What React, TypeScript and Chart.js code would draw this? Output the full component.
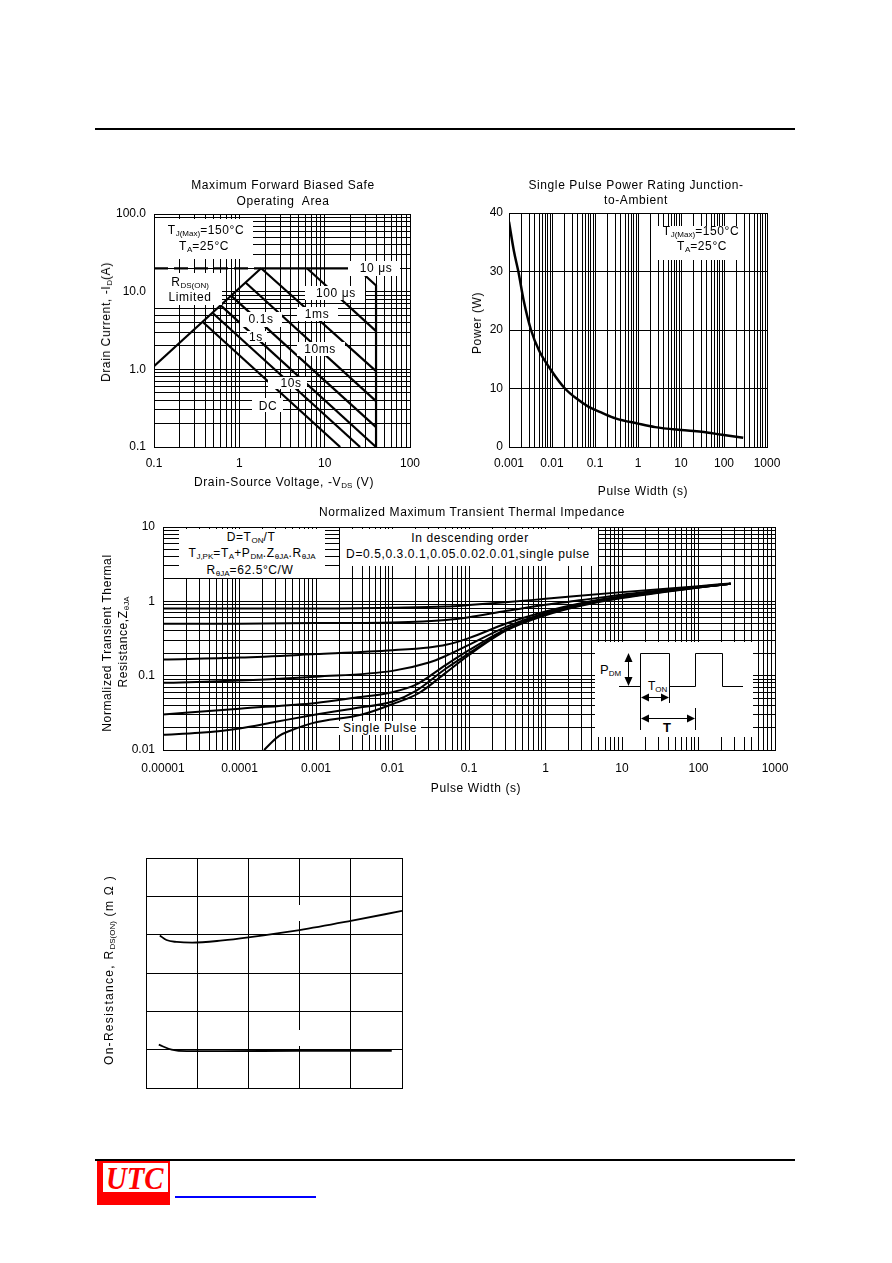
import React, { useEffect, useRef } from 'react';
import { Chart, registerables } from 'chart.js';
Chart.register(...registerables);

const FONT = "'Liberation Sans', Arial, Helvetica, sans-serif";

// ---------- Chart 1: Maximum Forward Biased Safe Operating Area ----------
const soaXTickLabels = ['0.1', '1', '10', '100'];
const soaYTickLabels = ['0.1', '1.0', '10.0', '100.0'];
const soaRdsLimit = [[0.1, 1.1], [1.8, 20]];
const soaCurrentLimit = [[0.1, 20], [1.8, 20]];
const soa10us = [[1.8, 20], [24, 20], [40, 12], [40, 0.1]];
const soa100us = [[6.2, 20], [40, 3.1]];
const soa1ms = [[1.8, 20], [40, 0.95]];
const soa10ms = [[1.18, 13.1], [40, 0.39]];
const soa100ms = [[0.8, 8.9], [40, 0.18]];
const soa1s = [[0.6, 6.7], [40, 0.1]];
const soa10s = [[0.48, 5.4], [26, 0.1]];
const soaDC = [[0.37, 4.1], [15.2, 0.1]];

// ---------- Chart 2: Single Pulse Power Rating ----------
const powerXTickLabels = ['0.001', '0.01', '0.1', '1', '10', '100', '1000'];
const pulseWidthS = [0.001, 0.0013, 0.00165, 0.0022, 0.00325, 0.005, 0.0098, 0.02, 0.04, 0.07, 0.15, 0.3, 1, 2.5, 10, 30, 90, 280];
const peakPowerW = [38.5, 33.5, 30, 25, 20, 16.5, 13, 10, 8.1, 6.9, 5.8, 4.9, 4.0, 3.4, 2.9, 2.6, 2.1, 1.6];

// ---------- Chart 3: Normalized Transient Thermal Impedance ----------
const zthXTickLabels = ['0.00001', '0.0001', '0.001', '0.01', '0.1', '1', '10', '100', '1000'];
const zthYTickLabels = ['0.01', '0.1', '1', '10'];
const zthD05 = [[1e-5, 0.8], [1e-4, 0.8], [1e-3, 0.8], [0.01, 0.82], [0.05, 0.85], [0.1, 0.89], [0.3, 0.97], [1, 1.08], [10, 1.33], [100, 1.6], [263, 1.74]];
const zthD03 = [[1e-5, 0.5], [1e-4, 0.5], [1e-3, 0.51], [0.01, 0.52], [0.05, 0.56], [0.1, 0.61], [0.3, 0.74], [1, 0.9], [3, 1.04], [10, 1.23], [100, 1.57], [263, 1.73]];
const zthD01 = [[1e-5, 0.165], [1e-4, 0.175], [1e-3, 0.195], [0.01, 0.22], [0.03, 0.24], [0.05, 0.26], [0.1, 0.32], [0.3, 0.5], [1, 0.73], [3, 0.95], [10, 1.17], [100, 1.56], [263, 1.73]];
const zthD005 = [[1e-5, 0.08], [1e-4, 0.086], [1e-3, 0.097], [0.01, 0.116], [0.03, 0.15], [0.05, 0.185], [0.1, 0.26], [0.3, 0.45], [1, 0.7], [3, 0.93], [10, 1.15], [100, 1.55], [263, 1.72]];
const zthD002 = [[1e-5, 0.03], [1e-4, 0.036], [1e-3, 0.043], [0.003, 0.05], [0.01, 0.06], [0.02, 0.075], [0.05, 0.14], [0.1, 0.22], [0.3, 0.42], [1, 0.68], [3, 0.91], [10, 1.14], [100, 1.55], [263, 1.72]];
const zthD001 = [[1e-5, 0.016], [3e-5, 0.017], [1e-4, 0.0195], [3e-4, 0.024], [1e-3, 0.03], [3e-3, 0.036], [0.01, 0.045], [0.02, 0.062], [0.05, 0.125], [0.1, 0.2], [0.3, 0.41], [1, 0.67], [3, 0.9], [10, 1.13], [100, 1.54], [263, 1.72]];
const zthSingle = [[2.1e-4, 0.01], [2.6e-4, 0.0125], [3.3e-4, 0.0155], [4.5e-4, 0.018], [9e-4, 0.023], [0.004, 0.03], [0.011, 0.043], [0.022, 0.058], [0.05, 0.11], [0.1, 0.19], [0.3, 0.4], [1, 0.65], [3, 0.88], [10, 1.11], [100, 1.53], [263, 1.72]];

// ---------- Chart 4: On-Resistance ----------
const rdsUpper = [[0.27, 3.98], [0.4, 3.86], [0.6, 3.81], [0.9, 3.79], [1.5, 3.85], [2.0, 3.93], [3.0, 4.12], [4.0, 4.36], [5.0, 4.62]];
const rdsLower = [[0.25, 1.13], [0.5, 1.0], [0.8, 0.96], [1.5, 0.96], [3.0, 0.97], [4.0, 0.97], [4.8, 0.97]];

// ---------- helpers ----------
const pts = (a: number[][]) => a.map(([x, y]) => ({ x, y }));
const zip = (xs: number[], ys: number[]) => xs.map((x, i) => ({ x, y: ys[i] }));

function logTickValues(minExp: number, maxExp: number) {
  const out: number[] = [];
  for (let e = minExp; e < maxExp; e++) for (let k = 1; k <= 9; k++) out.push(Number((k * Math.pow(10, e)).toPrecision(6)));
  out.push(Number(Math.pow(10, maxExp).toPrecision(6)));
  return out;
}

function logAxis(minExp: number, maxExp: number, labels: string[], axis: 'x' | 'y', size: number, pad: number) {
  return {
    type: 'logarithmic',
    min: Number(Math.pow(10, minExp).toPrecision(6)),
    max: Number(Math.pow(10, maxExp).toPrecision(6)),
    afterBuildTicks: (s: any) => { s.ticks = logTickValues(minExp, maxExp).map((v) => ({ value: v })); },
    afterFit: (s: any) => { if (axis === 'x') s.height = size; else s.width = size; },
    grid: { color: '#000', lineWidth: 1, drawTicks: false },
    border: { color: '#000', width: 1 },
    ticks: {
      autoSkip: false, maxRotation: 0, minRotation: 0, padding: pad, color: '#000',
      font: { family: FONT, size: 12 },
      callback: (v: any) => {
        const l = Math.log10(Number(v));
        const r = Math.round(l);
        return Math.abs(l - r) < 1e-6 ? (labels[r - minExp] ?? '') : '';
      },
    },
  };
}

function linAxis(min: number, max: number, step: number, axis: 'x' | 'y', size: number, pad: number, show: boolean) {
  return {
    type: 'linear', min, max,
    afterFit: (s: any) => { if (axis === 'x') s.height = size; else s.width = size; },
    grid: { color: '#000', lineWidth: 1, drawTicks: false },
    border: { color: '#000', width: 1 },
    ticks: { display: show, stepSize: step, padding: pad, color: '#000', font: { family: FONT, size: 12 } },
  };
}

const ds = (data: any[], w = 2, extra: any = {}) => ({
  data, borderColor: '#000', backgroundColor: '#000', borderWidth: w, pointRadius: 0,
  showLine: true, fill: false, tension: 0, ...extra,
});

const baseOpts = (padTop: number, padRight: number, scales: any) => ({
  responsive: false, animation: false, devicePixelRatio: 1, events: [],
  layout: { padding: { top: padTop, right: padRight, left: 0, bottom: 0 } },
  plugins: { legend: { display: false }, tooltip: { enabled: false }, title: { display: false } },
  scales,
});

type Plot = { l: number; t: number; r: number; b: number };
const frame = (p: Plot, yW: number, xH: number, padT: number, padR: number) => ({
  left: p.l - yW, top: p.t - padT, width: p.r - p.l + yW + padR, height: p.b - p.t + padT + xH,
});

function ChartCanvas({ rect, config }: { rect: { left: number; top: number; width: number; height: number }; config: any }) {
  const ref = useRef<HTMLCanvasElement>(null);
  useEffect(() => {
    const c = new Chart(ref.current as HTMLCanvasElement, config);
    return () => c.destroy();
  }, []);
  return (
    <canvas ref={ref} width={rect.width} height={rect.height}
      style={{ position: 'absolute', left: rect.left, top: rect.top, width: rect.width, height: rect.height, display: 'block' }} />
  );
}

const Txt = ({ x, y, children, size = 12, ls = 0.6, rot = false, bold = false }: any) => (
  <div style={{
    position: 'absolute', left: x, top: y, transform: `translate(-50%,-50%)${rot ? ' rotate(-90deg)' : ''}`,
    whiteSpace: 'nowrap', fontFamily: FONT, fontSize: size, lineHeight: 1, letterSpacing: ls, color: '#000',
    fontWeight: bold ? 'bold' : 'normal',
  }}>{children}</div>
);
const Sub = ({ children }: any) => <span style={{ fontSize: 8, verticalAlign: -2, letterSpacing: 0 }}>{children}</span>;
const Box = ({ l, t, r, b }: any) => (
  <div style={{ position: 'absolute', left: l, top: t, width: r - l, height: b - t, background: '#fff' }} />
);

// ---------- plot areas ----------
const soaPlot: Plot = { l: 154, t: 214, r: 410, b: 447 };
const powPlot: Plot = { l: 509, t: 213, r: 767, b: 447 };
const zthPlot: Plot = { l: 163, t: 527, r: 775, b: 750 };
const rdsPlot: Plot = { l: 146, t: 858, r: 402, b: 1088 };
const PAD_T = 24;
const PAD_R = 32;

const soaConfig = {
  type: 'scatter',
  data: {
    datasets: [
      ds(pts(soaRdsLimit), 2.2),
      ds(pts(soaCurrentLimit), 2.2, { borderDash: [14, 6] }),
      ds(pts(soa10us), 2.2),
      ds(pts(soa100us), 2.2),
      ds(pts(soa1ms), 2.2),
      ds(pts(soa10ms), 2.2),
      ds(pts(soa100ms), 2.2),
      ds(pts(soa1s), 2.2),
      ds(pts(soa10s), 2.2),
      ds(pts(soaDC), 2.2),
    ],
  },
  options: baseOpts(PAD_T, PAD_R, {
    x: logAxis(-1, 2, soaXTickLabels, 'x', 30, 9),
    y: logAxis(-1, 2, soaYTickLabels, 'y', 60, 8),
  }),
};

const powConfig = {
  type: 'scatter',
  data: { datasets: [ds(zip(pulseWidthS, peakPowerW), 2.5, { cubicInterpolationMode: 'monotone' })] },
  options: baseOpts(PAD_T, PAD_R, {
    x: logAxis(-3, 3, powerXTickLabels, 'x', 30, 9),
    y: linAxis(0, 40, 10, 'y', 50, 6, true),
  }),
};

const zthConfig = {
  type: 'scatter',
  data: {
    datasets: [zthD05, zthD03, zthD01, zthD005, zthD002, zthD001, zthSingle].map((s) =>
      ds(pts(s), 2, { cubicInterpolationMode: 'monotone' })),
  },
  options: baseOpts(PAD_T, PAD_R, {
    x: logAxis(-5, 3, zthXTickLabels, 'x', 30, 11),
    y: logAxis(-2, 1, zthYTickLabels, 'y', 60, 8),
  }),
};

const rdsConfig = {
  type: 'scatter',
  data: {
    datasets: [
      ds(pts(rdsUpper), 1.8, { cubicInterpolationMode: 'monotone' }),
      ds(pts(rdsLower), 1.8, { cubicInterpolationMode: 'monotone' }),
    ],
  },
  options: baseOpts(6, 6, {
    x: linAxis(0, 5, 1, 'x', 6, 0, false),
    y: linAxis(0, 6, 1, 'y', 6, 0, false),
  }),
};

function PulseInset() {
  const L = 595, T = 642;
  return (
    <svg width={158} height={95} style={{ position: 'absolute', left: L, top: T }}>
      <rect x={0} y={0} width={158} height={95} fill="#fff" />
      <polyline fill="none" stroke="#000" strokeWidth={1}
        points="24,44.5 45.5,44.5 45.5,11.5 74.5,11.5 74.5,44.5 100.5,44.5 100.5,11.5 127.5,11.5 127.5,44.5 148,44.5" />
      <line x1={45.5} y1={44} x2={45.5} y2={88} stroke="#000" strokeWidth={1} />
      <line x1={74.5} y1={44} x2={74.5} y2={61} stroke="#000" strokeWidth={1} />
      <line x1={100.5} y1={66} x2={100.5} y2={88} stroke="#000" strokeWidth={1} />
      <line x1={33.5} y1={18} x2={33.5} y2={38} stroke="#000" strokeWidth={1} />
      <polygon points="33.5,11 29.5,20 37.5,20" fill="#000" />
      <polygon points="33.5,44 29.5,35 37.5,35" fill="#000" />
      <line x1={52} y1={55.5} x2={68} y2={55.5} stroke="#000" strokeWidth={1} />
      <polygon points="46,55.5 54,51.5 54,59.5" fill="#000" />
      <polygon points="74,55.5 66,51.5 66,59.5" fill="#000" />
      <line x1={52} y1={76.5} x2={94} y2={76.5} stroke="#000" strokeWidth={1} />
      <polygon points="46,76.5 54,72.5 54,80.5" fill="#000" />
      <polygon points="100,76.5 92,72.5 92,80.5" fill="#000" />
      <text x={5} y={32} fontFamily={FONT} fontSize={13}>P<tspan fontSize={8} dy={2}>DM</tspan></text>
      <text x={53} y={48} fontFamily={FONT} fontSize={12}>T<tspan fontSize={8} dy={2}>ON</tspan></text>
      <text x={68} y={90} fontFamily={FONT} fontSize={13} fontWeight="bold">T</text>
    </svg>
  );
}

export default function App() {
  return (
    <div style={{ position: 'absolute', left: 0, top: 0, width: 892, height: 1263, background: '#fff', overflow: 'hidden' }}>
      <div style={{ position: 'absolute', left: 95, top: 128, width: 700, height: 2, background: '#000' }} />

      {/* ===== Chart 1 ===== */}
      <ChartCanvas rect={frame(soaPlot, 60, 30, PAD_T, PAD_R)} config={soaConfig} />
      <Txt x={283} y={185}>Maximum Forward Biased Safe</Txt>
      <Txt x={283} y={201}>Operating&nbsp; Area</Txt>
      <Txt x={284} y={483}>Drain-Source Voltage, -V<Sub>DS</Sub> (V)</Txt>
      <Txt x={107} y={322} rot>Drain Current, -I<Sub>D</Sub>(A)</Txt>
      <Box l={155} t={219} r={253} b={259} />
      <Txt x={206} y={231}>T<Sub>J(Max)</Sub>=150°C</Txt>
      <Txt x={204} y={247}>T<Sub>A</Sub>=25°C</Txt>
      <Box l={155} t={273} r={222} b={305} />
      <Txt x={190} y={283}>R<Sub>DS(ON)</Sub></Txt>
      <Txt x={190} y={297}>Limited</Txt>
      <Box l={348} t={261} r={400} b={276} />
      <Txt x={376} y={268}>10 μs</Txt>
      <Box l={305} t={286} r={365} b={300} />
      <Txt x={336} y={293}>100 μs</Txt>
      <Box l={297} t={307} r={338} b={321} />
      <Txt x={317} y={314}>1ms</Txt>
      <Box l={240} t={312} r={282} b={327} />
      <Txt x={261} y={319}>0.1s</Txt>
      <Box l={247} t={331} r={267} b={342} />
      <Txt x={256} y={337}>1s</Txt>
      <Box l={297} t={342} r={345} b={356} />
      <Txt x={320} y={349}>10ms</Txt>
      <Box l={268} t={377} r={307} b={389} />
      <Txt x={291} y={383}>10s</Txt>
      <Box l={252} t={398} r={283} b={412} />
      <Txt x={268} y={406}>DC</Txt>

      {/* ===== Chart 2 ===== */}
      <ChartCanvas rect={frame(powPlot, 50, 30, PAD_T, PAD_R)} config={powConfig} />
      <Txt x={636} y={185}>Single Pulse Power Rating Junction-</Txt>
      <Txt x={636} y={200}>to-Ambient</Txt>
      <Txt x={643} y={491}>Pulse Width (s)</Txt>
      <Txt x={477} y={323} rot>Power (W)</Txt>
      <Box l={654} t={226} r={742} b={260} />
      <Txt x={701} y={232}>T<Sub>J(Max)</Sub>=150°C</Txt>
      <Txt x={702} y={247}>T<Sub>A</Sub>=25°C</Txt>

      {/* ===== Chart 3 ===== */}
      <ChartCanvas rect={frame(zthPlot, 60, 30, PAD_T, PAD_R)} config={zthConfig} />
      <Txt x={472} y={512}>Normalized Maximum Transient Thermal Impedance</Txt>
      <Txt x={476} y={788}>Pulse Width (s)</Txt>
      <Txt x={107} y={643} rot>Normalized Transient Thermal</Txt>
      <Txt x={124} y={642} rot>Resistance,Z<Sub>θJA</Sub></Txt>
      <Box l={179} t={529} r={325} b={578} />
      <Txt x={251} y={538}>D=T<Sub>ON</Sub>/T</Txt>
      <Txt x={252} y={554}>T<Sub>J,PK</Sub>=T<Sub>A</Sub>+P<Sub>DM</Sub>.Z<Sub>θJA</Sub>.R<Sub>θJA</Sub></Txt>
      <Txt x={250} y={571}>R<Sub>θJA</Sub>=62.5°C/W</Txt>
      <Box l={340} t={529} r={598} b={566} />
      <Txt x={470} y={538}>In descending order</Txt>
      <Txt x={468} y={554}>D=0.5,0.3.0.1,0.05.0.02.0.01,single pulse</Txt>
      <Box l={339} t={721} r={421} b={735} />
      <Txt x={380} y={728}>Single Pulse</Txt>
      <PulseInset />

      {/* ===== Chart 4 ===== */}
      <ChartCanvas rect={frame(rdsPlot, 6, 6, 6, 6)} config={rdsConfig} />
      <Box l={298} t={905} r={303} b={921} />
      <Box l={298} t={1030} r={303} b={1046} />
      <Txt x={110} y={970} rot ls={1.3}>On-Resistance, R<Sub>DS(ON)</Sub> (m Ω )</Txt>

      {/* ===== footer ===== */}
      <div style={{ position: 'absolute', left: 95, top: 1159, width: 700, height: 2, background: '#000' }} />
      <div style={{ position: 'absolute', left: 97, top: 1161, width: 73, height: 44, background: '#f00' }} />
      <div style={{ position: 'absolute', left: 103, top: 1163, width: 65, height: 29, background: '#fff', overflow: 'hidden' }}>
        <div style={{
          position: 'absolute', left: '50%', top: '50%', transform: 'translate(-52%,-50%) scaleX(0.9)',
          fontFamily: "'Liberation Serif', 'Times New Roman', serif", fontStyle: 'italic', fontWeight: 'bold',
          fontSize: 32, lineHeight: 1, color: '#f00', whiteSpace: 'nowrap',
        }}>UTC</div>
      </div>
      <div style={{ position: 'absolute', left: 175, top: 1196, width: 141, height: 2, background: '#00f' }} />
    </div>
  );
}
